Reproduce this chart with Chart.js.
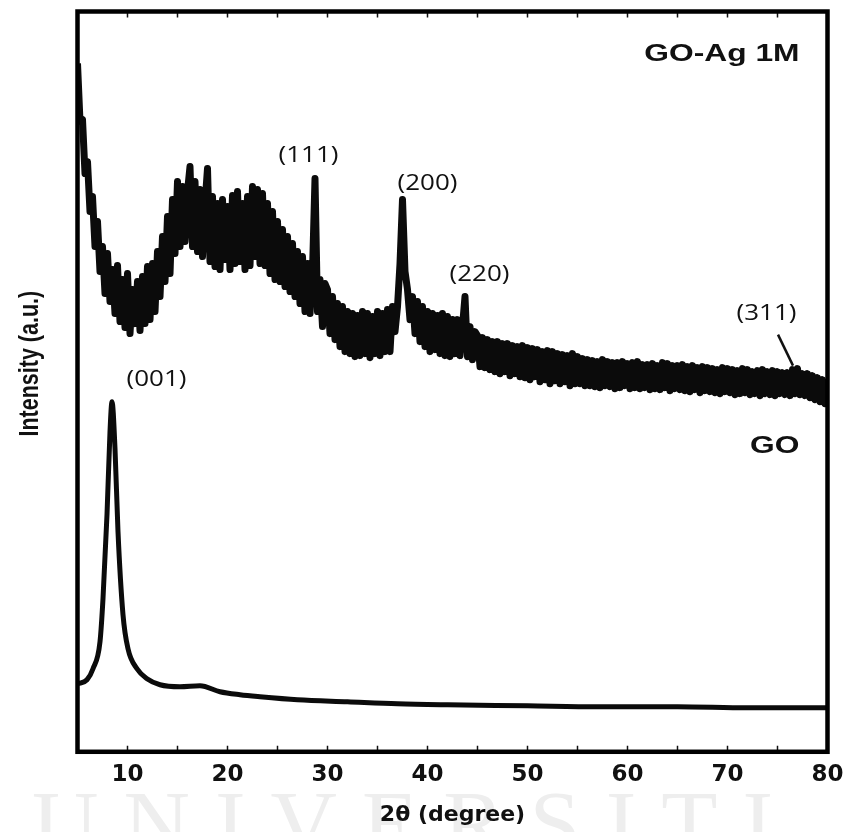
<!DOCTYPE html>
<html lang="en">
<head>
<meta charset="UTF-8">
<title>XRD - GO / GO-Ag 1M</title>
<script src="https://cdn.jsdelivr.net/npm/chart.js"></script>
<style>
  html, body { margin: 0; padding: 0; background: #fff; }
  #wrap { width: 847px; height: 832px; }
</style>
</head>
<body>
<div id="wrap"><canvas id="xrd" width="847" height="832"></canvas></div>
<script>
  // GO-Ag 1M scan on a 0.25 deg grid from 5 to 80 deg
  const agStart = 5;
  const agStep = 0.25;
  const goAgIntensity = [
    688, 630, 632, 578,   // 5
    590, 540, 555, 505,   // 6
    530, 480, 505, 458,   // 7
    498, 450, 482, 438,   // 8
    486, 430, 472, 424,   // 9
    478, 418, 462, 428,   // 10
    470, 421, 475, 428,   // 11
    485, 432, 488, 440,   // 12
    500, 455, 515, 470,   // 13
    535, 478, 552, 498,   // 14
    570, 505, 565, 510,   // 15
    560, 585, 505, 570,   // 16
    500, 562, 495, 548,   // 17
    583, 490, 555, 485,   // 18
    548, 482, 552, 492,   // 19
    545, 482, 556, 488,   // 20
    560, 490, 548, 482,   // 21
    555, 486, 565, 495,   // 22
    562, 488, 558, 486,   // 23
    548, 478, 540, 472,   // 24
    530, 470, 522, 465,   // 25
    515, 460, 508, 455,   // 26
    500, 448, 495, 440,   // 27
    488, 438, 480, 573,   // 28
    440, 472, 425, 468,   // 29
    462, 418, 455, 412,   // 30
    448, 405, 445, 400,   // 31
    440, 398, 438, 395,   // 32
    436, 396, 440, 398,   // 33
    438, 394, 435, 398,   // 34
    440, 396, 438, 400,   // 35
    442, 400, 445, 420,   // 36
    445, 488, 552, 480,   // 37
    462, 432, 455, 418,   // 38
    450, 410, 445, 405,   // 39
    440, 400, 438, 402,   // 40
    436, 398, 438, 396,   // 41
    435, 395, 432, 398,   // 42
    432, 396, 425, 455,   // 43
    395, 425, 392, 420,   // 44
    416, 385, 414, 384,   // 45
    412, 382, 410, 380,   // 46
    410, 378, 408, 380,   // 47
    408, 376, 406, 378,   // 48
    405, 375, 406, 374,   // 49
    404, 372, 403, 375,   // 50
    402, 370, 400, 372,   // 51
    401, 368, 400, 371,   // 52
    398, 368, 397, 370,   // 53
    396, 366, 398, 368,   // 54
    395, 368, 393, 366,   // 55
    392, 366, 391, 365,   // 56
    390, 364, 392, 366,   // 57
    390, 365, 389, 363,   // 58
    389, 364, 390, 366,   // 59
    388, 363, 389, 364,   // 60
    390, 363, 387, 364,   // 61
    387, 362, 388, 363,   // 62
    386, 362, 389, 364,   // 63
    388, 361, 386, 363,   // 64
    386, 362, 387, 361,   // 65
    385, 360, 386, 362,   // 66
    384, 359, 385, 361,   // 67
    384, 360, 383, 359,   // 68
    382, 358, 384, 360,   // 69
    383, 359, 382, 357,   // 70
    381, 358, 383, 359,   // 71
    382, 357, 380, 358,   // 72
    381, 356, 382, 358,   // 73
    380, 357, 381, 356,   // 74
    380, 358, 379, 357,   // 75
    379, 356, 382, 358,   // 76
    383, 357, 378, 356,   // 77
    378, 354, 376, 352,   // 78
    374, 350, 372, 348,   // 79
    358                   // 80
  ];

  // GO scan (smooth), 2theta / intensity pairs
  const goTheta =     [5.0, 5.95, 6.55, 7.25, 7.55, 7.95, 8.25, 8.45, 8.75, 9.05, 9.55, 10.05, 10.95, 11.95, 13.25, 15.25, 17.25, 19.25, 21.25, 23.25, 27, 32, 37, 42, 50, 57, 65, 72, 80];
  const goIntensity = [68,  72,   83,   110,  153,  237,  320,  350,  303,  220,  137,  103,   83,    73,    67,    65,    66,    60,    57,    55,    52, 50, 48, 47, 46, 45, 45, 44, 44];

  const xTickValues = [10, 20, 30, 40, 50, 60, 70, 80];
  const xMinorTicks = [5, 10, 15, 20, 25, 30, 35, 40, 45, 50, 55, 60, 65, 70, 75, 80];

  const peakNames = ['(111)', '(200)', '(220)', '(311)', '(001)'];
  const sampleNames = ['GO-Ag 1M', 'GO'];
  const yTitle = 'Intensity (a.u.)';

  const goAgPoints = goAgIntensity.map((v, i) => ({ x: agStart + i * agStep, y: v }));
  const goPoints = goTheta.map((t, i) => ({ x: t, y: goIntensity[i] }));

  // where the texts sit, in data units (2theta, intensity)
  const peakAnchors = [[28.1, 596], [40.0, 568], [45.2, 477], [73.9, 438], [12.9, 372]];
  const sampleAnchors = [[77.2, 697], [77.2, 305]];
  const arrow311 = [[75.05, 417], [76.55, 386]];

  const decorations = {
    id: 'decorations',
    beforeDraw(chart) {
      const c = chart.ctx;
      c.save();
      c.fillStyle = '#fff';
      c.fillRect(0, 0, chart.width, chart.height);
      c.fillStyle = '#eeeeee';
      c.font = '92px "Liberation Serif", serif';
      c.textBaseline = 'alphabetic';
      c.textAlign = 'left';
      c.letterSpacing = '25px';
      c.fillText('UNIVERSITI', 32, 854);
      c.restore();
    },
    afterDatasetsDraw(chart) {
      const c = chart.ctx;
      const { left, right, top, bottom } = chart.chartArea;
      const xs = chart.scales.x, ys = chart.scales.y;
      c.save();

      // inward minor ticks top and bottom
      c.strokeStyle = '#111';
      c.lineWidth = 1.5;
      xMinorTicks.forEach(v => {
        const px = xs.getPixelForValue(v);
        c.beginPath();
        c.moveTo(px, bottom); c.lineTo(px, bottom - 6);
        c.moveTo(px, top); c.lineTo(px, top + 6);
        c.stroke();
      });

      // frame
      c.lineWidth = 4.5;
      c.strokeStyle = '#000';
      c.strokeRect(left, top, right - left, bottom - top);

      // (311) pointer
      c.lineWidth = 2.5;
      c.strokeStyle = '#111';
      c.beginPath();
      c.moveTo(xs.getPixelForValue(arrow311[0][0]), ys.getPixelForValue(arrow311[0][1]));
      c.lineTo(xs.getPixelForValue(arrow311[1][0]), ys.getPixelForValue(arrow311[1][1]));
      c.stroke();

      c.fillStyle = '#111';
      c.textBaseline = 'middle';

      // y title, tall glyphs like the stretched source figure
      c.save();
      c.translate(30, (top + bottom) / 2 - 18);
      c.rotate(-Math.PI / 2);
      c.scale(1, 1.28);
      c.textAlign = 'center';
      c.font = 'bold 21.5px "Liberation Sans", Arial, sans-serif';
      c.fillText(yTitle, 0, 0);
      c.restore();

      // peak labels
      c.textAlign = 'center';
      c.font = '22px "Open Sans", "Noto Sans", sans-serif';
      peakNames.forEach((t, i) => {
        c.save();
        c.translate(xs.getPixelForValue(peakAnchors[i][0]), ys.getPixelForValue(peakAnchors[i][1]));
        c.scale(1.18, 1);
        c.fillText(t, 0, 0);
        c.restore();
      });

      // sample names
      c.textAlign = 'right';
      c.font = 'bold 23px "Liberation Sans", Arial, sans-serif';
      sampleNames.forEach((t, i) => {
        c.save();
        c.translate(xs.getPixelForValue(sampleAnchors[i][0]), ys.getPixelForValue(sampleAnchors[i][1]));
        c.scale(1.38, 1);
        c.fillText(t, 0, 0);
        c.restore();
      });
      c.restore();
    }
  };

  const ctx = document.getElementById('xrd').getContext('2d');
  const xrdChart = new Chart(ctx, {
    type: 'line',
    data: {
      datasets: [
        {
          label: 'GO-Ag 1M',
          data: goAgPoints,
          borderColor: '#0b0b0b',
          borderWidth: 7,
          borderJoinStyle: 'round',
          pointRadius: 0,
          tension: 0
        },
        {
          label: 'GO',
          data: goPoints,
          borderColor: '#0b0b0b',
          borderWidth: 5,
          borderJoinStyle: 'round',
          pointRadius: 0,
          cubicInterpolationMode: 'monotone'
        }
      ]
    },
    options: {
      responsive: false,
      animation: false,
      devicePixelRatio: 1,
      layout: { padding: { top: 11.5, right: 19.5, left: 77.5, bottom: 0 } },
      plugins: {
        legend: { display: false },
        tooltip: { enabled: false }
      },
      scales: {
        x: {
          type: 'linear',
          min: 5,
          max: 80,
          afterBuildTicks: s => { s.ticks = xTickValues.map(v => ({ value: v })); },
          grid: { display: false, drawTicks: false },
          border: { display: false },
          ticks: {
            padding: 3.5,
            autoSkip: false,
            maxRotation: 0,
            color: '#111',
            font: { family: '"DejaVu Sans", sans-serif', size: 23, weight: 'bold', lineHeight: 1.74 }
          },
          title: {
            display: true,
            text: '2θ (degree)',
            color: '#111',
            font: { family: '"DejaVu Sans", sans-serif', size: 22, weight: 'bold' },
            padding: { top: 3, bottom: 3.8 }
          }
        },
        y: {
          display: false,
          min: 0,
          max: 740
        }
      }
    },
    plugins: [decorations]
  });
</script>
</body>
</html>
